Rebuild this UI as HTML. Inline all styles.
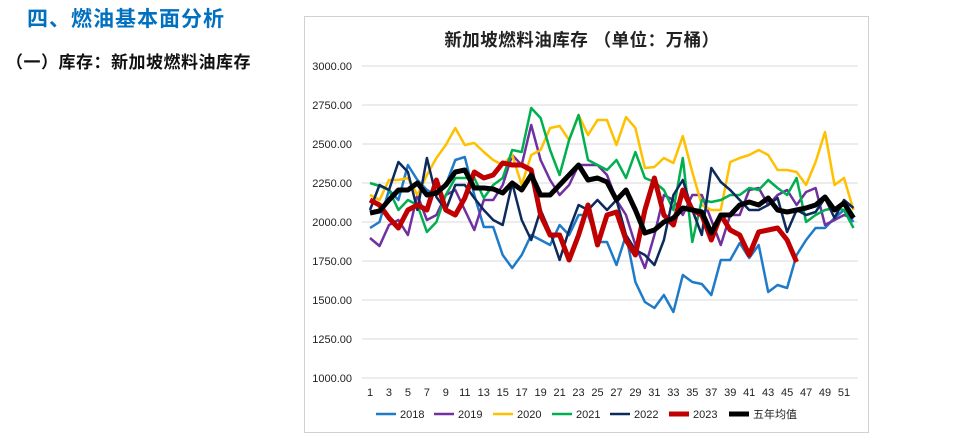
<!DOCTYPE html>
<html><head><meta charset="utf-8"><style>
body{margin:0;width:968px;height:435px;background:#fff;overflow:hidden;font-family:"Liberation Sans","Noto Sans CJK SC",sans-serif;}
.t1{position:absolute;left:27px;top:3px;font-size:21px;font-weight:bold;color:#0070c0;letter-spacing:1px;}
.t2{position:absolute;left:6px;top:48px;font-size:17px;font-weight:bold;color:#111;letter-spacing:0.5px;}
svg{position:absolute;left:0;top:0;}
</style></head><body>
<div class="t1">四、燃油基本面分析</div>
<div class="t2">（一）库存：新加坡燃料油库存</div>
<svg id="s" width="968" height="435" xmlns="http://www.w3.org/2000/svg" font-family="Liberation Sans, Noto Sans CJK SC, sans-serif">
<rect x="304.5" y="16.5" width="564" height="416" fill="#fff" stroke="#d0d0d0"/>
<text x="582" y="46" font-size="17.5" font-weight="bold" text-anchor="middle" fill="#222" letter-spacing="0.5">新加坡燃料油库存 （单位：万桶）</text>
<g id="g"></g>
</svg>
<script>
var g=document.getElementById('g'),h='';
var labs=['3000.00','2750.00','2500.00','2250.00','2000.00','1750.00','1500.00','1250.00','1000.00'];
for(var i=0;i<9;i++){var y=66+i*39;h+='<line x1="362" x2="858" y1="'+y+'" y2="'+y+'" stroke="#d9d9d9" stroke-width="1"/>';
h+='<text x="352" y="'+(y+4)+'" font-size="11" text-anchor="end" fill="#222">'+labs[i]+'</text>';}
function X(w){return 370+(w-1)*9.48;}
for(var w=1;w<=51;w+=2)h+='<text x="'+X(w)+'" y="396" font-size="11" text-anchor="middle" fill="#222">'+w+'</text>';
var S=[
['#1f7bc8',2.5,[228,222,190,200,165,180,190,195,185,160,157,195,227,227,255,268,255,235,240,245,225,235,215,215,242,242,265,235,282,302,308,295,312,275,282,284,295,260,260,243,258,245,292,285,288,255,240,228,228,218,210,222]],
['#7030a0',2.5,[238,246,225,220,235,195,220,215,195,190,210,230,200,200,185,155,165,125,160,180,195,185,165,165,165,175,200,215,245,268,235,195,200,215,195,195,220,245,215,215,190,188,205,195,190,205,192,188,225,220,215,218]],
['#ffc000',2.5,[195,200,180,180,178,195,175,158,145,128,145,143,152,160,165,155,185,155,150,128,126,140,115,135,120,120,145,117,128,168,167,158,163,136,172,205,210,210,162,158,155,150,155,170,170,172,185,162,132,185,178,210]],
['#00b050',2.5,[183,186,190,210,200,205,232,222,195,178,178,178,198,185,178,150,152,108,118,150,175,140,115,160,165,170,160,178,152,178,182,190,210,158,242,200,202,200,195,195,188,190,180,188,195,178,222,215,210,208,210,228]],
['#0d2a5c',2.5,[210,185,190,162,172,210,158,197,210,185,185,198,210,220,225,183,220,240,210,232,260,230,205,210,200,210,200,235,250,255,265,240,195,180,210,235,168,182,190,200,210,210,205,198,232,210,215,212,198,218,200,208]],
['#c00000',5,[200,205,218,228,210,205,210,180,210,215,198,172,178,175,163,165,165,170,215,235,235,260,235,205,245,215,212,240,255,210,178,215,225,190,210,215,240,215,230,235,255,232,230,228,240,262]],
['#000',5,[213,211,200,190,190,183,195,193,185,172,170,188,188,189,193,183,190,175,195,195,185,175,165,180,178,182,200,190,210,233,230,222,218,208,210,212,233,215,215,205,202,205,198,210,212,210,208,205,197,210,203,218]]];
S.forEach(function(s){var p=s[2].map(function(y,i){return X(i+1).toFixed(1)+','+y;}).join(' ');
h+='<polyline points="'+p+'" fill="none" stroke="'+s[0]+'" stroke-width="'+s[1]+'" stroke-linejoin="round"/>';});
var L=[['2018','#1f7bc8',2.5,376],['2019','#7030a0',2.5,434],['2020','#ffc000',2.5,493],['2021','#00b050',2.5,552],['2022','#0d2a5c',2.5,610],['2023','#c00000',5,669],['五年均值','#000',5,729]];
L.forEach(function(l){h+='<line x1="'+l[3]+'" x2="'+(l[3]+20)+'" y1="414" y2="414" stroke="'+l[1]+'" stroke-width="'+l[2]+'"/><text x="'+(l[3]+24)+'" y="418" font-size="11" fill="#222">'+l[0]+'</text>';});
g.innerHTML=h;
</script>
</body></html>
